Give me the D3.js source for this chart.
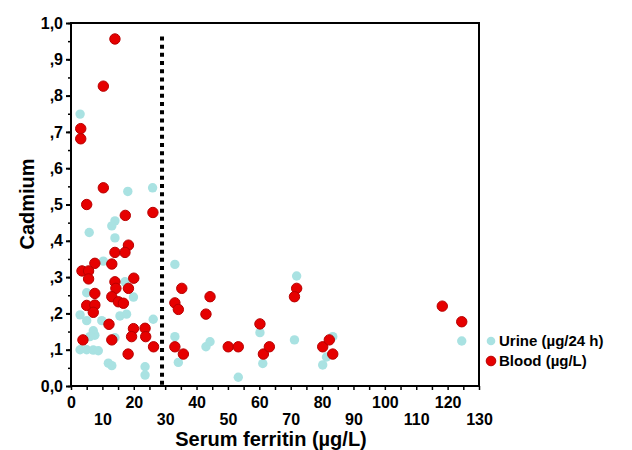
<!DOCTYPE html>
<html><head><meta charset="utf-8">
<script src="https://cdn.jsdelivr.net/npm/d3@7"></script>
<style>body{margin:0;background:#fff}svg{display:block;font-family:"Liberation Sans",Arial,Helvetica,sans-serif}</style>
</head><body><svg id="c" width="632" height="450"></svg>
<script>
// ---- data ----
const seriesNames = ["Urine (µg/24 h)", "Blood (µg/L)"];
const urineX = [2.9,18.1,26.0,14.0,13.0,5.8,14.0,10.3,17.2,5.0,19.9,2.9,15.6,17.7,5.0,9.8,26.2,7.1,7.6,6.0,14.0,2.9,5.0,7.1,8.7,11.9,13.0,23.6,23.6,
  33.1,33.1,34.2,43.0,44.3,53.3,60.2,61.1,71.9,71.2,83.4,80.2,81.4,124.5];
const urineY = [0.749,0.536,0.546,0.455,0.441,0.423,0.408,0.344,0.287,0.257,0.245,0.196,0.193,0.198,0.180,0.180,0.184,0.152,0.140,0.136,0.133,0.100,0.100,0.099,0.097,0.063,0.056,0.053,0.030,
  0.335,0.136,0.065,0.108,0.122,0.024,0.147,0.062,0.303,0.127,0.136,0.058,0.080,0.124];
const bloodX = [14.0,10.3,3.1,3.1,10.3,5.0,17.3,26.1,18.3,14.0,17.2,7.6,13.0,3.5,5.6,5.6,20.0,14.0,14.3,18.3,7.6,13.0,15.1,16.7,5.0,7.6,7.1,12.1,19.9,23.6,19.3,23.8,3.8,13.0,26.3,18.2,
  35.3,33.1,34.2,44.3,43.0,33.1,35.8,50.1,53.3,60.2,61.3,63.2,71.9,71.2,80.2,82.3,83.4,118.3,124.5];
const bloodY = [0.956,0.826,0.709,0.681,0.546,0.500,0.470,0.478,0.388,0.368,0.368,0.338,0.336,0.317,0.317,0.295,0.297,0.287,0.269,0.269,0.255,0.246,0.232,0.228,0.222,0.223,0.203,0.170,0.158,0.159,0.136,0.136,0.127,0.127,0.108,0.088,
  0.269,0.229,0.211,0.246,0.198,0.108,0.088,0.108,0.108,0.171,0.088,0.108,0.269,0.246,0.108,0.127,0.088,0.220,0.177];
const thresholdX = [29];
const xTickValues = [0,10,20,30,40,50,60,70,80,90,100,110,120,130];
const yTickLabels = ["0,0",",1",",2",",3",",4",",5",",6",",7",",8",",9","1,0"];
const xTitle = "Serum ferritin (µg/L)";
const yTitle = "Cadmium";

// ---- drawing ----
const svg = d3.select("#c");
const L = 71, R = 479, T = 23, B = 386;
const x = d3.scaleLinear().domain([0,130]).range([L,R]);
const y = d3.scaleLinear().domain([0,1]).range([B,T]);

// minor ticks
const xMinor = d3.range(0,131,5);
const yMinor = d3.range(0,1.0001,0.05);
svg.append("g").attr("transform",`translate(0,${B})`)
  .call(d3.axisBottom(x).tickValues(xMinor).tickSize(4).tickFormat(""))
  .call(g=>g.select(".domain").remove())
  .selectAll("line").attr("stroke","#000").attr("stroke-width",1.5);
svg.append("g").attr("transform",`translate(${L},0)`)
  .call(d3.axisLeft(y).tickValues(yMinor).tickSize(3).tickFormat(""))
  .call(g=>g.select(".domain").remove())
  .selectAll("line").attr("stroke","#000").attr("stroke-width",1.5);
// major y ticks with labels
const yMajor = d3.range(0,11).map(d=>d/10);
const yAx = svg.append("g").attr("transform",`translate(${L},0)`)
  .call(d3.axisLeft(y).tickValues(yMajor).tickSize(5).tickPadding(3).tickFormat((d,i)=>yTickLabels[i]));
yAx.select(".domain").remove();
yAx.selectAll("line").attr("stroke","#000").attr("stroke-width",2);
yAx.selectAll("text").attr("font-size",16).attr("font-weight","bold").attr("fill","#000")
  .attr("font-family","Liberation Sans, Arial, sans-serif");

// x labels in two rows
const xAx = svg.append("g").attr("transform",`translate(0,${B})`)
  .call(d3.axisBottom(x).tickValues(xTickValues).tickSize(0).tickPadding(0).tickFormat(d3.format("d")));
xAx.select(".domain").remove();
xAx.selectAll("text").attr("font-size",16).attr("font-weight","bold").attr("fill","#000")
  .attr("font-family","Liberation Sans, Arial, sans-serif")
  .attr("dy",null)
  .attr("y",d=> (d/10)%2===0 ? 22 : 39);

// frame
svg.append("rect").attr("x",L).attr("y",T).attr("width",R-L).attr("height",B-T)
  .attr("fill","none").attr("stroke","#000").attr("stroke-width",2);

// threshold dotted line
svg.selectAll("line.thr").data(thresholdX).join("line").attr("class","thr")
  .attr("x1",d=>x(d)).attr("x2",d=>x(d)).attr("y1",y(0.963)).attr("y2",B)
  .attr("stroke","#000").attr("stroke-width",4).attr("stroke-dasharray","4,4.2");

// points
const urine = urineX.map((v,i)=>({x:v,y:urineY[i]}));
const blood = bloodX.map((v,i)=>({x:v,y:bloodY[i]}));
svg.append("g").selectAll("circle").data(urine).join("circle")
  .attr("cx",d=>x(d.x)).attr("cy",d=>y(d.y)).attr("r",4.7).attr("fill","#a9e2e2");
svg.append("g").selectAll("circle").data(blood).join("circle")
  .attr("cx",d=>x(d.x)).attr("cy",d=>y(d.y)).attr("r",5.2).attr("fill","#e60000")
  .attr("stroke","#b80000").attr("stroke-width",1);

// legend
const leg = svg.append("g");
const legColors = ["#a9e2e2","#e60000"];
seriesNames.forEach((n,i)=>{
  const cy = 341 + i*20;
  leg.append("circle").attr("cx",491).attr("cy",cy).attr("r",i?4.8:4.3).attr("fill",legColors[i])
    .attr("stroke",i?"#b80000":"none");
  leg.append("text").attr("x",499).attr("y",cy).attr("dy","0.35em").attr("font-size",15)
    .attr("font-weight","bold").text(n);
});

// titles
svg.append("text").attr("x",(L+R)/2 - 4).attr("y",446).attr("text-anchor","middle")
  .attr("font-size",20).attr("font-weight","bold").text(xTitle);
svg.append("text").attr("transform","translate(34,204) rotate(-90)").attr("text-anchor","middle")
  .attr("font-size",20).attr("font-weight","bold").text(yTitle);
</script></body></html>
